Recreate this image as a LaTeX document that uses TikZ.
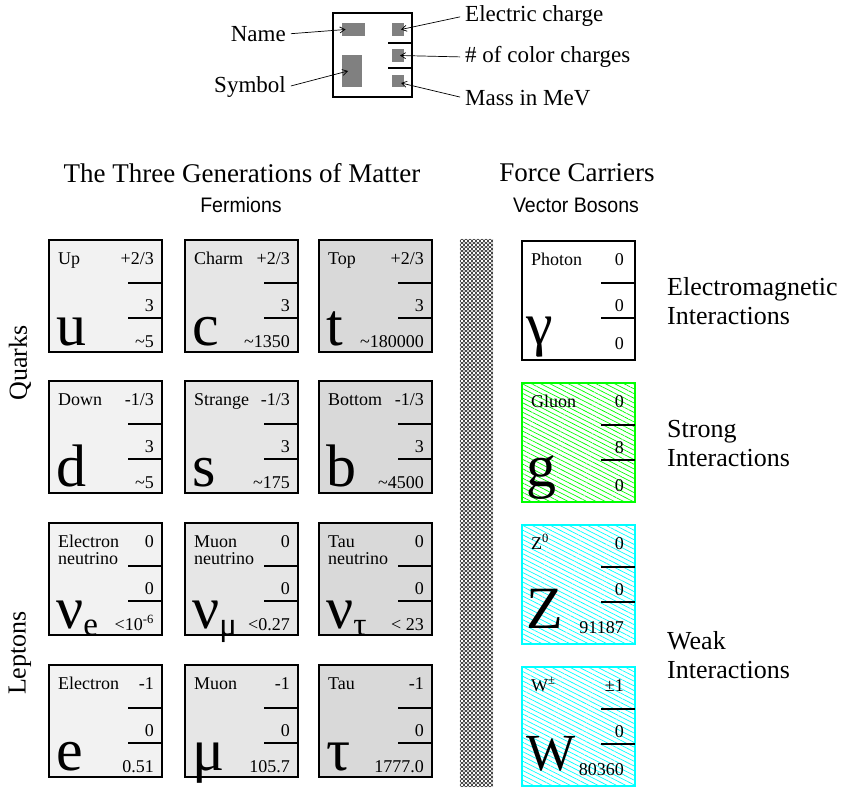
\documentclass[tikz,border=0pt]{standalone}
\usepackage{fontspec}
\setmainfont{Liberation Serif}
\setsansfont{Liberation Sans}
\usepackage{tikz}
\usetikzlibrary{arrows.meta,positioning,patterns.meta}
\definecolor{genone}{HTML}{F2F2F2}
\definecolor{gentwo}{HTML}{E6E6E6}
\definecolor{genthree}{HTML}{D9D9D9}
\definecolor{strongc}{HTML}{00FF00}
\definecolor{weakc}{HTML}{00FFFF}

\newcommand{\twoline}[2]{\begin{tabular}[t]{@{}l@{}}#1\\#2\end{tabular}}
\newcommand{\lowsub}[1]{\raisebox{-7pt}{\fontsize{33}{33}\selectfont #1}}

% fermion cell: name, x, y (top), fill, label, charge, colours, mass, symbol
\newcommand{\fermion}[9]{%
  \node[cell, fill=#4] (#1) at (#2,#3) {};
  \node[celltext, anchor=base west] (#1-n) at ([shift={(9pt,-24pt)}]#1.north west) {#5};
  \node[celltext, anchor=base east] (#1-q) at ([shift={(-8pt,-24pt)}]#1.north east) {#6};
  \node[celltext, anchor=base east] (#1-c) at ([shift={(-8pt,-71pt)}]#1.north east) {#7};
  \node[celltext, anchor=base east] (#1-m) at ([shift={(-8pt,-107pt)}]#1.north east) {#8};
  \node[bigsym, anchor=base west] (#1-s) at ([shift={(7pt,-105pt)}]#1.north west) {#9};
  \draw[divider] ([shift={(-34pt,-43pt)}]#1.north east) -- ++(34pt,0);
  \draw[divider] ([shift={(-34pt,-78pt)}]#1.north east) -- ++(34pt,0);
}

% boson cell: same arguments, #4 is the look of the cell
\newcommand{\boson}[9]{%
  \node[cell, minimum height=119pt, #4] (#1) at (#2,#3) {};
  \node[celltext, anchor=base west] (#1-n) at ([shift={(9pt,-24pt)}]#1.north west) {#5};
  \node[celltext, anchor=base east] (#1-q) at ([shift={(-11pt,-24pt)}]#1.north east) {#6};
  \node[celltext, anchor=base east] (#1-c) at ([shift={(-11pt,-70pt)}]#1.north east) {#7};
  \node[celltext, anchor=base east] (#1-m) at ([shift={(-11pt,-108pt)}]#1.north east) {#8};
  \node[bigsym, anchor=base west] (#1-s) at ([shift={(4pt,-103pt)}]#1.north west) {#9};
  \draw[divider] ([shift={(-34pt,-42pt)}]#1.north east) -- ++(34pt,0);
  \draw[divider] ([shift={(-34pt,-77pt)}]#1.north east) -- ++(34pt,0);
}

\begin{document}
\begin{tikzpicture}[
  x=1pt, y=-1pt,
  cell/.style={draw, line width=1.6pt, anchor=north west, outer sep=0pt, inner sep=0pt, minimum width=113pt, minimum height=112pt},
  celltext/.style={inner sep=0pt, font=\fontsize{18}{17}\selectfont},
  bigsym/.style={inner sep=0pt, font=\fontsize{60}{60}\selectfont},
  divider/.style={line width=1.6pt},
  heading/.style={font=\fontsize{27}{30}\selectfont},
  subheading/.style={font=\sffamily\fontsize{21}{24}\selectfont, xscale=0.93},
  sidelabel/.style={font=\fontsize{26}{29}\selectfont, align=left, inner sep=0pt},
  legendtext/.style={font=\fontsize{23}{26}\selectfont, inner sep=1pt},
  graypatch/.style={fill=black!50, inner sep=0pt, outer sep=0pt},
  pointer/.style={-{Straight Barb[length=5pt,width=6pt]}, line width=0.7pt, shorten <=4pt},
  strongcell/.style={draw=strongc, pattern={Lines[angle=-27,distance=4.2pt,line width=0.7pt]}, pattern color=strongc},
  weakcell/.style={draw=weakc, pattern={Lines[angle=-27,distance=4.2pt,line width=0.7pt]}, pattern color=weakc}
]
  \useasboundingbox (0,0) rectangle (848,787);

  % legend
  \node[draw, line width=1.6pt, minimum width=79pt, minimum height=84pt, inner sep=0pt] (legend) at (372.5,55) {};
  \node[graypatch, minimum width=23pt, minimum height=13pt] (pname) at (353.5,29.5) {};
  \node[graypatch, minimum width=20pt, minimum height=32pt] (psym) at (352,71) {};
  \node[graypatch, minimum width=12pt, minimum height=13pt] (pcharge) at (398,29.5) {};
  \node[graypatch, minimum width=12pt, minimum height=13pt] (pcolour) at (398,55.5) {};
  \node[graypatch, minimum width=12pt, minimum height=12pt] (pmass) at (398,81) {};
  \draw[divider] (388,43) -- (412,43);
  \draw[divider] (388,68) -- (412,68);

  \node[legendtext, anchor=east] (lname) at (287,34) {Name};
  \node[legendtext, anchor=east] (lsym) at (287,87) {Symbol};
  \node[legendtext, anchor=west] (lcharge) at (464,16) {Electric charge};
  \node[legendtext, anchor=west] (lcolour) at (464,57) {\# of color charges};
  \node[legendtext, anchor=west] (lmass) at (464,98) {Mass in MeV};

  \draw[pointer] (lname.east) -- ([xshift=-8pt]pname.center);
  \draw[pointer] (lsym.east) -- ([xshift=-4pt]psym.center);
  \draw[pointer] (lcharge.west) -- ([xshift=3pt]pcharge.center);
  \draw[pointer] (lcolour.west) -- ([xshift=2pt]pcolour.center);
  \draw[pointer] (lmass.west) -- ([shift={(3pt,-2pt)}]pmass.center);

  % headings
  \node[heading] (gen) at (242,173) {The Three Generations of Matter};
  \node[subheading] (ferm) at (241,205) {Fermions};
  \node[heading] (force) at (577,173) {Force Carriers};
  \node[subheading] (vbos) at (576,205) {Vector Bosons};

  \node[sidelabel, rotate=90] (quarks) at (20,363) {Quarks};
  \node[sidelabel, rotate=90] (leptons) at (20,653) {Leptons};

  % fermions
  \fermion{up}{49}{240}{genone}{Up}{+2/3}{3}{\textasciitilde5}{u}
  \fermion{charm}{185}{240}{gentwo}{Charm}{+2/3}{3}{\textasciitilde1350}{c}
  \fermion{top}{319}{240}{genthree}{Top}{+2/3}{3}{\textasciitilde180000}{t}
  \fermion{down}{49}{381}{genone}{Down}{-1/3}{3}{\textasciitilde5}{d}
  \fermion{strange}{185}{381}{gentwo}{Strange}{-1/3}{3}{\textasciitilde175}{s}
  \fermion{bottom}{319}{381}{genthree}{Bottom}{-1/3}{3}{\textasciitilde4500}{b}
  \fermion{nue}{49}{523}{genone}{\twoline{Electron}{neutrino}}{0}{0}{<10\textsuperscript{-6}}{ν\lowsub{e}}
  \fermion{numu}{185}{523}{gentwo}{\twoline{Muon}{neutrino}}{0}{0}{<0.27}{ν\lowsub{μ}}
  \fermion{nutau}{319}{523}{genthree}{\twoline{Tau}{neutrino}}{0}{0}{< 23}{ν\lowsub{τ}}
  \fermion{electron}{49}{665}{genone}{Electron}{-1}{0}{0.51}{e}
  \fermion{muon}{185}{665}{gentwo}{Muon}{-1}{0}{105.7}{μ}
  \fermion{tau}{319}{665}{genthree}{Tau}{-1}{0}{1777.0}{τ}

  % separator mesh
  \foreach \yy in {241,245,...,785} {
    \draw[black!85, line width=0.55pt] plot[domain=0:33, samples=34] ({460+\x}, {\yy+1.9*sin(\x*45)});
    \draw[black!85, line width=0.55pt] plot[domain=0:33, samples=34] ({460+\x}, {\yy-1.9*sin(\x*45)});
  }

  % bosons
  \boson{photon}{522}{241}{draw=black}{Photon}{0}{0}{0}{γ}
  \boson{gluon}{522}{383}{strongcell}{Gluon}{0}{8}{0}{g}
  \boson{zboson}{522}{525}{weakcell}{Z\textsuperscript{0}}{0}{0}{91187}{Z}
  \boson{wboson}{522}{667}{weakcell}{W\textsuperscript{±}}{±1}{0}{80360}{\fontsize{52}{52}\selectfont W}

  % interactions
  \node[sidelabel, anchor=west] (em) at (667,301) {Electromagnetic\\Interactions};
  \node[sidelabel, anchor=west] (strong) at (667,444) {Strong\\Interactions};
  \node[sidelabel, anchor=west] (weak) at (667,655) {Weak\\Interactions};
\end{tikzpicture}
\end{document}
